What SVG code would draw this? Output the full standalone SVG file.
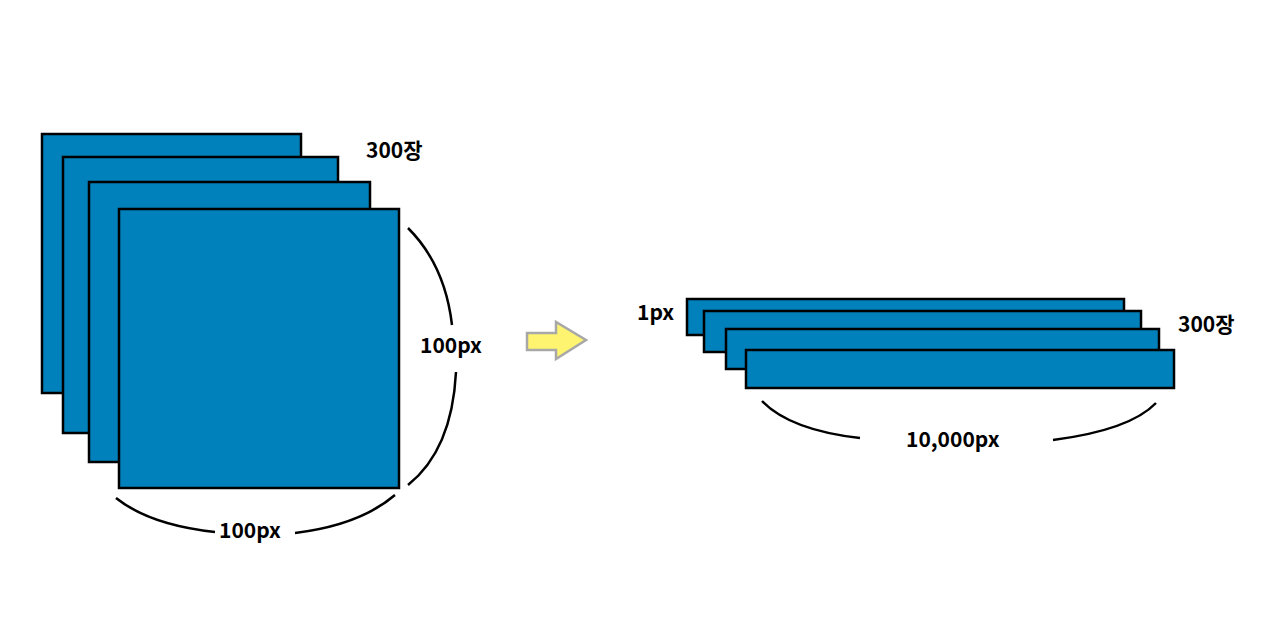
<svg xmlns="http://www.w3.org/2000/svg" width="1280" height="633" viewBox="0 0 1280 633">
<style>
.s{fill:#0081bb;stroke:#000;stroke-width:2.5}
.c{fill:none;stroke:#000;stroke-width:2.5}
text{font-family:"Noto Sans CJK KR","Noto Sans",sans-serif;font-weight:bold;font-size:21px;fill:#000}
</style>
<rect width="1280" height="633" fill="#fff"/>
<g id="left-stack">
<rect class="s" x="42" y="134" width="259" height="259"/>
<rect class="s" x="63" y="157" width="275" height="276"/>
<rect class="s" x="89" y="182" width="281" height="280"/>
<rect class="s" x="119" y="209" width="280" height="279"/>
</g>
<g id="right-stack">
<rect class="s" x="687" y="299" width="437" height="36"/>
<rect class="s" x="704" y="311" width="437" height="41"/>
<rect class="s" x="726" y="329" width="433" height="40"/>
<rect class="s" x="746" y="350" width="428" height="38"/>
</g>
<g id="connectors">
<path class="c" d="M408 228 Q445 265 452 325"/>
<path class="c" d="M456 372 Q452 450 408 485"/>
<path class="c" d="M116 498 Q150 525 215 532"/>
<path class="c" d="M295 533 Q360 525 395 495"/>
<path class="c" d="M762 401 Q790 430 860 438"/>
<path class="c" d="M1053 440 Q1130 430 1156 403"/>
<path d="M527 333 H556 V322 L586 340 L556 359 V350 H527 Z" fill="#fef46f" stroke="#a8a8a8" stroke-width="2.5"/>
</g>
<text x="366" y="158">300장</text>
<text x="420" y="353">100px</text>
<text x="219" y="538">100px</text>
<text x="637" y="320">1px</text>
<text x="1178" y="332">300장</text>
<text x="906" y="447">10,000px</text>
</svg>
